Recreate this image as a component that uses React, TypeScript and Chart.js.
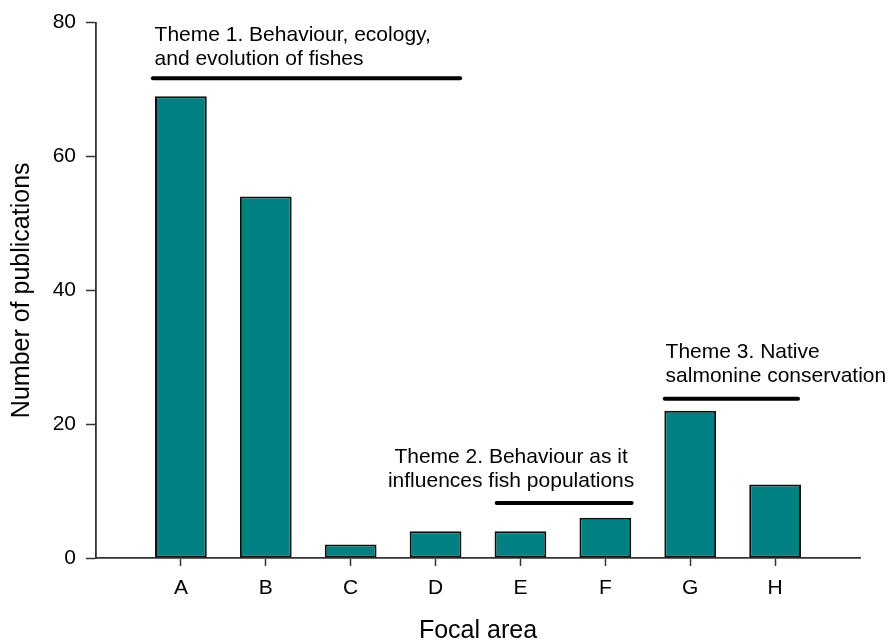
import React, { useEffect, useRef } from "react";
import { Chart, registerables } from "chart.js";

Chart.register(...registerables);

const categories = ["A", "B", "C", "D", "E", "F", "G", "H"];
const publications = [69, 54, 2, 4, 4, 6, 22, 11];
const yTicks = [0, 20, 40, 60, 80];

// Theme annotations (data units: x = category position 1..8, y = publications)
const themeTexts = [
  ["Theme 1. Behaviour, ecology,", "and evolution of fishes"],
  ["Theme 2. Behaviour as it", "influences fish populations"],
  ["Theme 3. Native", "salmonine conservation"],
];
const themeTextX = [0.69, 4.89, 6.71];
const themeTextY = [77.2, 14.15, 29.9];
const themeTextAlign = ["left", "center", "left"];
const themeLineStart = [0.67, 4.72, 6.7];
const themeLineEnd = [4.29, 6.31, 8.27];
const themeLineY = [71.7, 8.2, 23.8];

const FONT = "'Liberation Sans', Arial, sans-serif";

const annotationPlugin = {
  id: "themeAnnotations",
  afterDatasetsDraw(chart: any) {
    const { ctx, scales } = chart;
    const xs = scales.x;
    const ys = scales.y;
    ctx.save();
    ctx.strokeStyle = "#000";
    ctx.lineWidth = 4;
    ctx.lineCap = "round";
    for (let i = 0; i < themeLineY.length; i++) {
      const y = ys.getPixelForValue(themeLineY[i]);
      ctx.beginPath();
      ctx.moveTo(xs.getPixelForValue(themeLineStart[i]), y);
      ctx.lineTo(xs.getPixelForValue(themeLineEnd[i]), y);
      ctx.stroke();
    }
    ctx.fillStyle = "#000";
    ctx.font = `21px ${FONT}`;
    ctx.textBaseline = "alphabetic";
    for (let i = 0; i < themeTexts.length; i++) {
      ctx.textAlign = themeTextAlign[i] as CanvasTextAlign;
      const x = xs.getPixelForValue(themeTextX[i]);
      const y0 = ys.getPixelForValue(themeTextY[i]);
      themeTexts[i].forEach((line, j) => {
        ctx.fillText(line, x, y0 + j * 24);
      });
    }
    ctx.restore();
  },
};

export default function App() {
  const canvasRef = useRef<HTMLCanvasElement | null>(null);

  useEffect(() => {
    document.body.style.margin = "0";
    const canvas = canvasRef.current;
    if (!canvas) return;
    const chart = new Chart(canvas, {
      type: "bar",
      data: {
        datasets: [
          {
            data: publications.map((v, i) => ({ x: i + 1, y: v })),
            backgroundColor: "#008080",
            borderColor: "#111",
            borderWidth: 2,
            borderSkipped: false,
            barPercentage: 0.61,
            categoryPercentage: 1,
          },
        ],
      },
      options: {
        responsive: false,
        animation: false,
        layout: { padding: { top: 21, right: 28, left: 0, bottom: 0 } },
        plugins: {
          legend: { display: false },
          tooltip: { enabled: false },
        },
        scales: {
          x: {
            type: "linear",
            min: 0,
            max: 9,
            offset: false,
            afterFit: (scale: any) => {
              scale.height = 82;
            },
            afterBuildTicks: (scale: any) => {
              scale.ticks = categories.map((_, i) => ({ value: i + 1 }));
            },
            grid: {
              display: true,
              offset: false,
              drawOnChartArea: false,
              drawTicks: true,
              tickLength: 8,
              tickWidth: 1.5,
              tickColor: "#333",
            },
            border: { display: true, color: "#333", width: 1.8 },
            ticks: {
              autoSkip: false,
              maxRotation: 0,
              padding: 10,
              color: "#000",
              font: { family: FONT, size: 21 },
              callback: (v: any) => categories[Number(v) - 1] ?? "",
            },
            title: {
              display: true,
              text: "Focal area",
              color: "#000",
              font: { family: FONT, size: 25, lineHeight: 1 },
              padding: { top: 0, bottom: -4 },
            },
          },
          y: {
            type: "linear",
            min: 0,
            max: 80,
            afterFit: (scale: any) => {
              scale.width = 96;
            },
            afterBuildTicks: (scale: any) => {
              scale.ticks = yTicks.map((v) => ({ value: v }));
            },
            grid: {
              display: true,
              drawOnChartArea: false,
              drawTicks: true,
              tickLength: 10,
              tickWidth: 1.5,
              tickColor: "#333",
            },
            border: { display: true, color: "#333", width: 1.8 },
            ticks: {
              padding: 10,
              color: "#000",
              font: { family: FONT, size: 21 },
            },
            title: {
              display: true,
              text: "Number of publications",
              color: "#000",
              font: { family: FONT, size: 25, lineHeight: 1 },
              padding: { top: 10, bottom: 0 },
            },
          },
        },
      },
      plugins: [annotationPlugin],
    });
    return () => chart.destroy();
  }, []);

  return (
    <div style={{ width: 888, height: 640, background: "#fff" }}>
      <canvas ref={canvasRef} width={888} height={640} />
    </div>
  );
}
